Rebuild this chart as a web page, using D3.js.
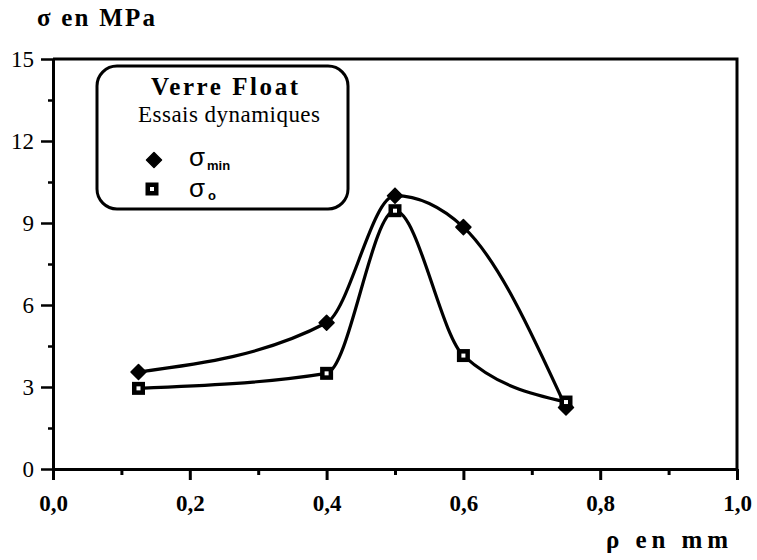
<!DOCTYPE html>
<html><head><meta charset="utf-8">
<script src="https://cdn.jsdelivr.net/npm/d3@7"></script>
<style>body{margin:0;background:#fff}svg{display:block}</style>
</head><body>
<svg id="c" width="757" height="560"></svg>
<script>
const rho = [0.125, 0.4, 0.5, 0.6, 0.75];
const sigmaMin = [3.55, 5.35, 10.0, 8.85, 2.25];
const sigma0 = [2.95, 3.5, 9.45, 4.15, 2.45];
const xTicks = [0, 0.2, 0.4, 0.6, 0.8, 1.0];
const xTickLabels = ["0,0", "0,2", "0,4", "0,6", "0,8", "1,0"];
const xMinor = [0.1, 0.3, 0.5, 0.7, 0.9];
const yTicks = [0, 3, 6, 9, 12, 15];
const yMinor = [1.5, 4.5, 7.5, 10.5, 13.5];

const svg = d3.select("#c");
const x = d3.scaleLinear().domain([0, 1]).range([53, 737]);
const y = d3.scaleLinear().domain([0, 15]).range([469, 59]);
const serif = "'Liberation Serif','Times New Roman',serif";
const sans = "'Liberation Sans',Arial,sans-serif";

// frame
svg.append("path")
  .attr("d", `M${x(0)},${y(15)}H${x(1)}V${y(0)}`)
  .attr("fill", "none").attr("stroke", "#000").attr("stroke-width", 3);

// axes
const xAxis = d3.axisBottom(x).tickValues(xTicks).tickSize(11).tickSizeOuter(0)
  .tickFormat((d, i) => xTickLabels[i]);
const gx = svg.append("g").attr("transform", `translate(0,${y(0)})`).call(xAxis);
gx.select(".domain").attr("stroke-width", 3);
gx.selectAll(".tick line").attr("stroke-width", 3);
gx.selectAll(".tick text").attr("font-family", serif).attr("font-weight", "bold")
  .attr("font-size", 23).attr("fill", "#000").attr("y", 42).attr("dy", 0);
svg.append("g").attr("transform", `translate(0,${y(0)})`)
  .call(d3.axisBottom(x).tickValues(xMinor).tickSize(6).tickFormat("").tickSizeOuter(0))
  .call(g => g.select(".domain").remove())
  .selectAll(".tick line").attr("stroke-width", 3);

const yAxis = d3.axisLeft(y).tickValues(yTicks).tickSize(12).tickSizeOuter(0).tickPadding(7);
const gy = svg.append("g").attr("transform", `translate(${x(0)},0)`).call(yAxis);
gy.select(".domain").attr("stroke-width", 3);
gy.selectAll(".tick line").attr("stroke-width", 2.5);
gy.selectAll(".tick text").attr("font-family", serif).attr("font-size", 23).attr("fill", "#000");
svg.append("g").attr("transform", `translate(${x(0)},0)`)
  .call(d3.axisLeft(y).tickValues(yMinor).tickSize(5).tickFormat("").tickSizeOuter(0))
  .call(g => g.select(".domain").remove())
  .selectAll(".tick line").attr("stroke-width", 2.5);

// axis titles
svg.append("text").attr("x", 37).attr("y", 26).attr("font-family", serif)
  .attr("font-weight", "bold").attr("font-size", 25)
  .attr("textLength", 118).attr("lengthAdjust", "spacing").text("σ en MPa");
svg.append("text").attr("x", 606).attr("y", 548).attr("font-family", serif)
  .attr("font-weight", "bold").attr("font-size", 25)
  .attr("textLength", 122).attr("lengthAdjust", "spacing").text("ρ  en mm");

// curves
const line = d3.line().x(d => x(d[0])).y(d => y(d[1])).curve(d3.curveMonotoneX);
const dMin = rho.map((r, i) => [r, sigmaMin[i]]);
const d0 = rho.map((r, i) => [r, sigma0[i]]);
[dMin, d0].forEach(d => svg.append("path").attr("d", line(d))
  .attr("fill", "none").attr("stroke", "#000").attr("stroke-width", 3.2));

function diamond(g, cx, cy) {
  g.append("path").attr("d", `M${cx},${cy-7.5}L${cx+7.5},${cy}L${cx},${cy+7.5}L${cx-7.5},${cy}Z`)
    .attr("fill", "#000").attr("stroke", "#000").attr("stroke-width", 1.5).attr("stroke-linejoin", "round");
}
function square(g, cx, cy) {
  g.append("rect").attr("x", cx - 6.5).attr("y", cy - 6.5).attr("width", 13).attr("height", 13).attr("fill", "#000");
  g.append("rect").attr("x", cx - 2).attr("y", cy - 2).attr("width", 4).attr("height", 4).attr("fill", "#fff");
}
dMin.forEach(d => diamond(svg, x(d[0]), y(d[1])));
d0.forEach(d => square(svg, x(d[0]), y(d[1])));

// legend
const lg = svg.append("g");
lg.append("rect").attr("x", 97).attr("y", 66).attr("width", 251).attr("height", 143)
  .attr("rx", 20).attr("ry", 20).attr("fill", "#fff").attr("stroke", "#000").attr("stroke-width", 3);
lg.append("text").attr("x", 151).attr("y", 95).attr("font-family", serif).attr("font-weight", "bold")
  .attr("font-size", 25).attr("textLength", 147).attr("lengthAdjust", "spacing").text("Verre Float");
lg.append("text").attr("x", 138).attr("y", 122).attr("font-family", serif)
  .attr("font-size", 23).attr("textLength", 182).attr("lengthAdjust", "spacing").text("Essais dynamiques");
diamond(lg, 154, 160);
square(lg, 152, 189);
const t1 = lg.append("text").attr("x", 189).attr("y", 166).attr("font-family", sans).attr("font-size", 26);
t1.append("tspan").text("σ");
t1.append("tspan").attr("font-size", 13).attr("font-weight", "bold").attr("dx", 2).attr("dy", 4).text("min");
const t2 = lg.append("text").attr("x", 189).attr("y", 197).attr("font-family", sans).attr("font-size", 26);
t2.append("tspan").text("σ");
t2.append("tspan").attr("font-size", 13).attr("font-weight", "bold").attr("dx", 3).attr("dy", 3).text("o");
</script>
</body></html>
